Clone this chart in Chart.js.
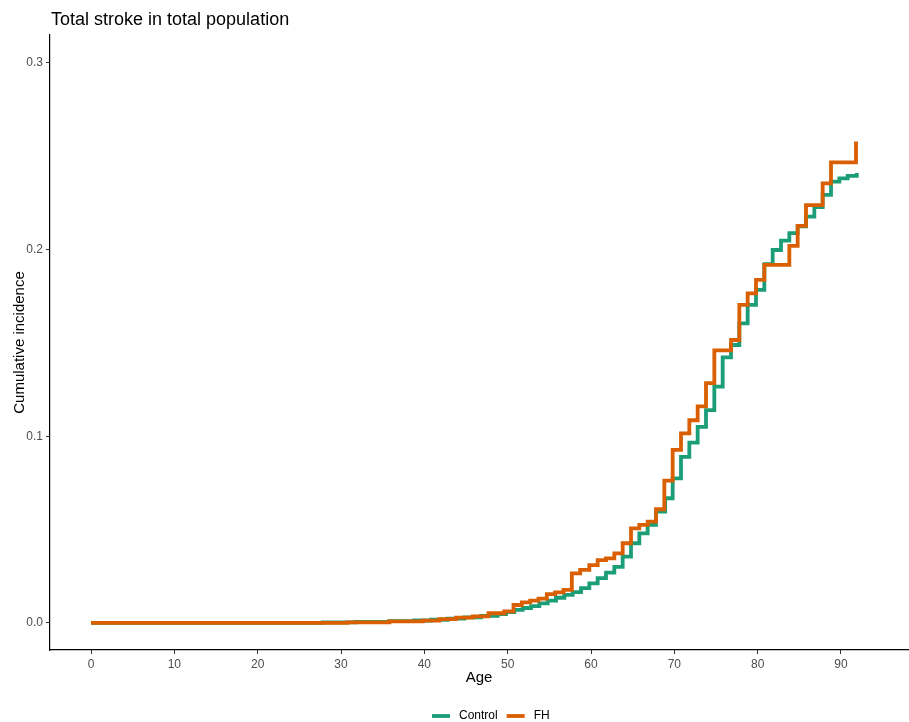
<!DOCTYPE html>
<html>
<head>
<meta charset="utf-8">
<script src="https://cdn.jsdelivr.net/npm/chart.js@4/dist/chart.umd.min.js"></script>
<style>
html,body{margin:0;padding:0;background:#ffffff;}
#wrap{width:909px;height:722px;position:relative;}
</style>
</head>
<body>
<div id="wrap"><canvas id="c" width="909" height="722"></canvas></div>
<script>
// ---- Text ----
const chartTitle = "Total stroke in total population";
const xAxisTitle = "Age";
const yAxisTitle = "Cumulative incidence";
const seriesNames = ["Control", "FH"];

// ---- Tick labels ----
const xTicks = [0, 10, 20, 30, 40, 50, 60, 70, 80, 90];
const yTicks = [0.0, 0.1, 0.2, 0.3];

// ---- Series: Control (age at step, cumulative incidence after step) ----
const controlAge = [0, 27.8, 31.8, 35.8, 38.8, 40.8, 42.8, 44.8, 46.8, 48.8, 49.8,
  50.8, 51.8, 52.8, 53.8, 54.8, 55.8, 56.8, 57.8, 58.8, 59.8,
  60.8, 61.8, 62.8, 63.8, 64.8, 65.8, 66.8, 67.8, 68.9, 69.8,
  70.8, 71.8, 72.8, 73.8, 74.8, 75.8, 76.8, 77.8, 78.8, 79.8,
  80.8, 81.8, 82.8, 83.8, 84.8, 85.8, 86.8, 87.8, 88.8, 89.8, 90.8, 91.9];
const controlInc = [0, 0.0003, 0.0006, 0.001, 0.0013, 0.0017, 0.0023, 0.003, 0.0038, 0.0048, 0.0058,
  0.007, 0.008, 0.009, 0.0105, 0.012, 0.0135, 0.015, 0.0165, 0.0186, 0.0212,
  0.024, 0.027, 0.030, 0.0355, 0.0427, 0.048, 0.0525, 0.0596, 0.0668, 0.0775,
  0.089, 0.0966, 0.105, 0.114, 0.1266, 0.1423, 0.1489, 0.1605, 0.1704, 0.1784,
  0.1922, 0.1998, 0.2048, 0.2088, 0.2125, 0.2177, 0.2228, 0.2293, 0.2364, 0.2382, 0.2395, 0.241];

// ---- Series: FH ----
const fhAge = [0, 30.8, 35.8, 39.8, 41.8, 43.8, 45.8, 47.7, 49.6,
  50.7, 51.7, 52.7, 53.7, 54.7, 55.7, 56.7, 57.7, 58.7, 59.8,
  60.8, 61.8, 62.8, 63.8, 64.8, 65.8, 66.8, 67.8, 68.8, 69.8,
  70.8, 71.8, 72.8, 73.8, 74.8, 76.8, 77.8, 78.8, 79.8,
  80.8, 83.8, 84.8, 85.8, 87.8, 88.8, 91.8];
const fhInc = [0, 0.0003, 0.0008, 0.0012, 0.002, 0.0028, 0.0035, 0.0052, 0.0062,
  0.0096, 0.011, 0.012, 0.013, 0.0154, 0.0164, 0.0177, 0.0266, 0.0284, 0.031,
  0.0337, 0.0346, 0.0373, 0.0427, 0.0507, 0.0525, 0.0543, 0.0609, 0.0762, 0.0927,
  0.1016, 0.1086, 0.116, 0.1285, 0.146, 0.1516, 0.1704, 0.1766, 0.1838,
  0.1918, 0.202, 0.2127, 0.2239, 0.2355, 0.2468, 0.2579];

const COLORS = ["#1B9E77", "#D95F02"];
const FONT = "'Liberation Sans', Arial, Helvetica, sans-serif";

function toPoints(xs, ys) { return xs.map((x, i) => ({ x: x, y: ys[i] })); }

Chart.defaults.font.family = FONT;

const titlePlugin = {
  id: 'customTitle',
  afterDraw(chart) {
    const ctx = chart.ctx;
    ctx.save();
    ctx.font = "18px " + FONT;
    ctx.fillStyle = "#000000";
    ctx.textBaseline = "alphabetic";
    ctx.textAlign = "left";
    ctx.fillText(chartTitle, chart.chartArea.left + 1, 25);
    ctx.restore();
  }
};

const legendPlugin = {
  id: 'customLegend',
  afterDraw(chart) {
    const ctx = chart.ctx;
    ctx.save();
    ctx.font = "12px " + FONT;
    ctx.textBaseline = "middle";
    ctx.textAlign = "left";
    const y = 716;
    let x = 432;
    chart.data.datasets.forEach((ds, i) => {
      ctx.strokeStyle = ds.borderColor;
      ctx.lineWidth = 3.8;
      ctx.lineCap = "butt";
      ctx.beginPath();
      ctx.moveTo(x, y);
      ctx.lineTo(x + 18, y);
      ctx.stroke();
      x += 18 + 9;
      ctx.fillStyle = "#000000";
      ctx.fillText(ds.label, x, y);
      x += ctx.measureText(ds.label).width + 9;
    });
    ctx.restore();
  }
};

new Chart(document.getElementById('c'), {
  type: 'line',
  data: {
    datasets: [
      { label: seriesNames[0], data: toPoints(controlAge, controlInc), borderColor: COLORS[0],
        backgroundColor: COLORS[0], borderWidth: 3.8, pointRadius: 0, stepped: 'before', fill: false, order: 1 },
      { label: seriesNames[1], data: toPoints(fhAge, fhInc), borderColor: COLORS[1],
        backgroundColor: COLORS[1], borderWidth: 3.8, pointRadius: 0, stepped: 'before', fill: false, order: 0 }
    ]
  },
  options: {
    responsive: false,
    animation: false,
    devicePixelRatio: 1,
    layout: { padding: { top: 35, right: 1, bottom: 0, left: 0 } },
    plugins: { legend: { display: false }, title: { display: false }, tooltip: { enabled: false } },
    scales: {
      x: {
        type: 'linear',
        min: -4.92, max: 98.04,
        afterBuildTicks: s => { s.ticks = xTicks.map(v => ({ value: v })); },
        afterFit: s => { s.height = 72; },
        ticks: { font: { size: 12 }, color: '#4D4D4D', padding: 3, maxRotation: 0, autoSkip: false,
                 callback: v => String(v) },
        grid: { display: true, drawOnChartArea: false, drawTicks: true, tickLength: 4, color: '#333333', lineWidth: 1 },
        border: { display: true, color: '#000000', width: 1.2 },
        title: { display: true, text: xAxisTitle, color: '#000000', font: { size: 15 }, padding: { top: 0, bottom: 35 } }
      },
      y: {
        type: 'linear',
        min: -0.0145, max: 0.315,
        afterBuildTicks: s => { s.ticks = yTicks.map(v => ({ value: v })); },
        afterFit: s => { s.width = 50; },
        ticks: { font: { size: 12 }, color: '#4D4D4D', padding: 3, callback: v => Number(v).toFixed(1) },
        grid: { display: true, drawOnChartArea: false, drawTicks: true, tickLength: 4, color: '#333333', lineWidth: 1 },
        border: { display: true, color: '#000000', width: 1.2 },
        title: { display: true, text: yAxisTitle, color: '#000000', font: { size: 15 }, padding: { top: 11, bottom: 0 } }
      }
    }
  },
  plugins: [titlePlugin, legendPlugin]
});
</script>
</body>
</html>
